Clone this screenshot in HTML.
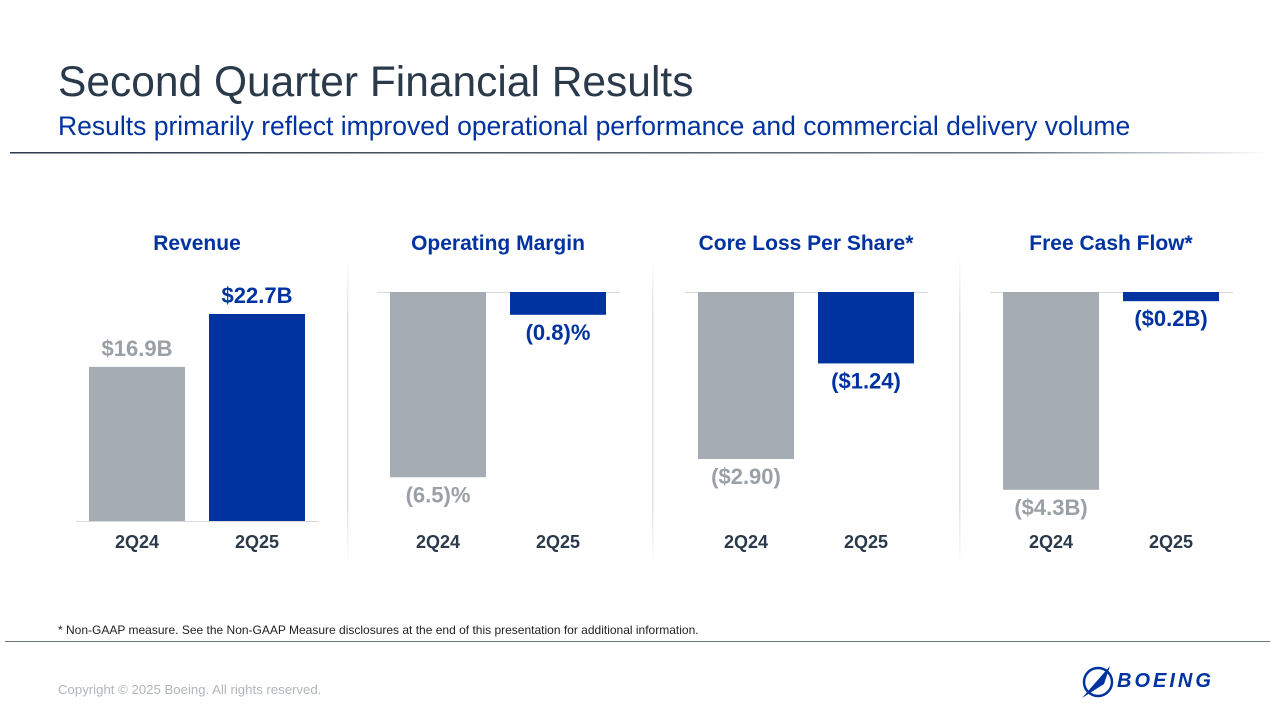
<!DOCTYPE html>
<html><head><meta charset="utf-8">
<style>
body{margin:0;width:1280px;height:720px;background:#fff;font-family:"Liberation Sans",Arial,sans-serif;overflow:hidden;position:relative}
svg{position:absolute;left:0;top:0}
</style></head>
<body>
<svg id="chart" width="1280" height="720" xmlns="http://www.w3.org/2000/svg">
<defs>
<linearGradient id="hl" x1="0" x2="1"><stop offset="0" stop-color="#2b3a4a"/><stop offset="0.8" stop-color="#6a7685"/><stop offset="1" stop-color="#fff"/></linearGradient>
<linearGradient id="vl" x1="0" y1="0" x2="0" y2="1"><stop offset="0" stop-color="#fff"/><stop offset="0.2" stop-color="#dde2ea"/><stop offset="0.8" stop-color="#dde2ea"/><stop offset="1" stop-color="#fff"/></linearGradient>
</defs>
<text x="58" y="96" font-size="42.5" fill="#2b3a4a">Second Quarter Financial Results</text>
<text x="58" y="135" font-size="26.5" fill="#0033a0">Results primarily reflect improved operational performance and commercial delivery volume</text>
<rect x="10" y="152" width="1260" height="1.5" fill="url(#hl)"/>
<rect x="347" y="255" width="1.5" height="312" fill="url(#vl)"/>
<rect x="652" y="255" width="1.5" height="312" fill="url(#vl)"/>
<rect x="959" y="255" width="1.5" height="312" fill="url(#vl)"/>
<g id="panels"></g>
<text x="58" y="634" font-size="12" fill="#222">* Non-GAAP measure. See the Non-GAAP Measure disclosures at the end of this presentation for additional information.</text>
<rect x="5" y="641" width="1265" height="1" fill="#6a7685"/>
<text x="58" y="694" font-size="13.2" fill="#b0b5bb">Copyright © 2025 Boeing. All rights reserved.</text>
<g>
<ellipse cx="1098" cy="682" rx="14" ry="14" fill="none" stroke="#0033a0" stroke-width="2.5"/>
<path d="M1082 698 L1110 666 L1104 684 Z" fill="#0033a0"/>
<text x="1117" y="687" font-size="20" font-weight="bold" font-style="italic" fill="#0033a0" letter-spacing="3">BOEING</text>
</g>
</svg>
<script>
const panelTitles=["Revenue","Operating Margin","Core Loss Per Share*","Free Cash Flow*"];
const categories=["2Q24","2Q25"];
const values0=[16.9,-6.5,-2.90,-4.3];
const values1=[22.7,-0.8,-1.24,-0.2];
const labels0=["$16.9B","(6.5)%","($2.90)","($4.3B)"];
const labels1=["$22.7B","(0.8)%","($1.24)","($0.2B)"];
const panelX=[76,377,685,990];
const pxPerUnit=[9.12,28.5,57.6,46];
const NS="http://www.w3.org/2000/svg";
const g=document.getElementById("panels");
function mk(t,a){const e=document.createElementNS(NS,t);for(const k in a)e.setAttribute(k,a[k]);g.appendChild(e);return e;}
panelTitles.forEach((title,i)=>{
  const x0=panelX[i];
  const pos=values0[i]>0;
  const base=pos?521:292;
  const cx=x0+121;
  const t=mk("text",{x:cx,y:250,"font-size":21,"font-weight":"bold",fill:"#0033a0","text-anchor":"middle"});
  t.textContent=title;
  
  
  const ln=mk("rect",{x:x0,y:base,width:243,height:1,fill:"#d5d9de"});
  
  
  [values0[i],values1[i]].forEach((v,j)=>{
    const bx=x0+13+j*120;
    const h=Math.abs(v)*pxPerUnit[i];
    const y=v>=0?base-h:base;
    const col=j==0?"#a5acb3":"#0033a0";
    const r=mk("rect",{x:bx,y:y,width:96,height:h,fill:col});
    
    
    const lab=mk("text",{x:bx+48,y:v>=0?y-11:y+h+25,"font-size":22,"font-weight":"bold",fill:j==0?"#9aa0a6":"#0033a0","text-anchor":"middle"});
    lab.textContent=j==0?labels0[i]:labels1[i];
    
    
    const xl=mk("text",{x:bx+48,y:548,"font-size":18,"font-weight":"bold",fill:"#2b3a4a","text-anchor":"middle"});
    xl.textContent=categories[j];
    
    
  });
});
</script>
</body></html>
